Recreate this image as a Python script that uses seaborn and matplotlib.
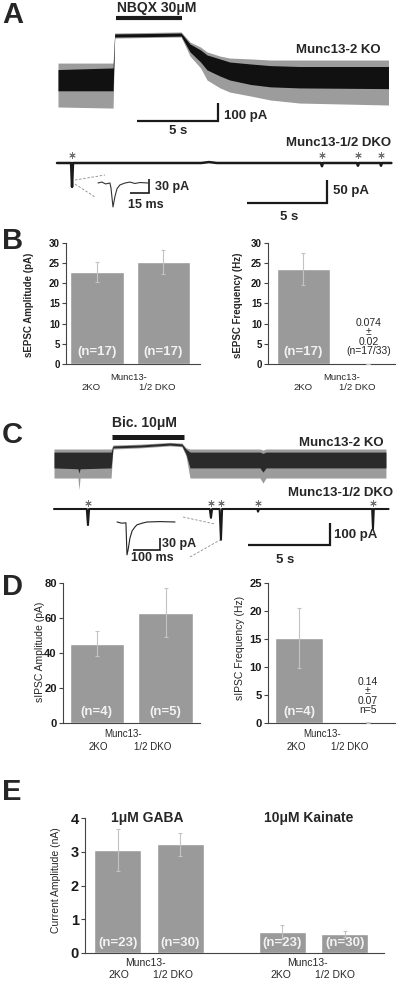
import numpy as np
import pandas as pd
import matplotlib
matplotlib.use("Agg")
import matplotlib.pyplot as plt
import seaborn as sns

# ---------------- values ----------------
genotypes = ["2KO", "1/2 DKO"]

# A  Munc13-2 KO trace, drawn as noise envelopes (time s, current pA from baseline)
ko_a_t = [0, 3.4, 3.5, 5.5, 7.6, 8.15, 8.8, 9.2, 10.0, 10.6, 11.9, 13.1, 14.9, 20.4]
ko_a_hi = [58, 67, 256, 258, 261, 200, 167, 139, 117, 100, 89, 80, 75, 75]
ko_a_lo = [-60, -60, 239, 241, 244, 156, 100, 56, 22, 0, -25, -38, -44, -48]
ko_a_spk_hi = [94, 94, 261, 264, 267, 211, 183, 156, 133, 122, 117, 111, 111, 111]
ko_a_spk_lo = [-150, -156, 233, 236, 239, 133, 67, 0, -44, -67, -89, -111, -128, -139]
nbqx_on = [3.58, 7.65]

# A  Munc13-1/2 DKO trace
dko_a_t = [0, 0.88, 0.94, 1.0, 9.0, 9.5, 10.0, 16.5, 16.56, 16.62, 18.75, 18.81, 18.87, 20.2, 20.25, 20.3, 20.9]
dko_a_pA = [0, 0, -52, 0, 0, 2, 0, 0, -7, 0, 0, -6, 0, 0, -6, 0, 0]
dko_a_events = [0.94, 16.56, 18.81, 20.25]
# A  expanded event (ms, pA)
ins_a_ms = [0, 3, 6, 9.4, 10.2, 11.8, 13.4, 15, 17.3, 21.3, 25.2, 29, 33, 39.4]
ins_a_pA = [0, 2, -2, 0, -10, -51, -28, -12, -4, 0, 2, -1, 1, 0]

# B  sEPSCs
epsc_amp = [22.8, 25.3]
epsc_amp_err = [2.5, 3.0]
epsc_freq = [23.5, 0.074]
epsc_freq_err = [4.0, 0.02]

# C  Munc13-2 KO trace envelopes
ko_c_t = [0, 1.46, 1.52, 1.59, 3.48, 3.6, 5.24, 7.07, 7.8, 8.05, 8.29, 12.56, 12.74, 12.93, 20.24]
ko_c_hi = [36, 36, 36, 36, 36, 64, 68, 77, 73, 50, 36, 36, 30, 36, 36]
ko_c_lo = [-36, -40, -60, -40, -36, 55, 59, 68, 64, 27, -36, -36, -55, -36, -36]
ko_c_spk_hi = [50, 50, 50, 50, 50, 68, 72, 80, 77, 55, 50, 50, 45, 50, 50]
ko_c_spk_lo = [-82, -82, -136, -82, -82, 50, 55, 64, 60, 18, -82, -82, -105, -82, -82]
bic_on = [3.54, 7.93]

# C  Munc13-1/2 DKO trace
dko_c_t = [0, 2.0, 2.07, 2.14, 9.5, 9.57, 9.64, 10.1, 10.18, 10.25, 12.4, 12.44, 12.5, 19.4, 19.45, 19.5, 20.4]
dko_c_pA = [0, 0, -73, 0, 0, -40, 0, 0, -140, 0, 0, -12, 0, 0, -90, 0, 0]
dko_c_events = [2.07, 9.57, 10.18, 12.44, 19.45]
ins_c_ms = [0, 18, 33, 37, 41, 48, 56, 67, 74, 93, 111, 160, 215]
ins_c_pA = [0, -3, -2, -82, -70, -40, -22, -12, -7, -3, 0, 1, 0]

# D  sIPSCs
ipsc_amp = [45.3, 63.0]
ipsc_amp_err = [7.0, 14.0]
ipsc_freq = [15.2, 0.14]
ipsc_freq_err = [5.3, 0.07]

# E  agonist-evoked currents (nA)
agonists = ["1μM GABA", "10μM Kainate"]
e_agonist = ["1μM GABA", "1μM GABA", "10μM Kainate", "10μM Kainate"]
e_genotype = ["2KO", "1/2 DKO", "2KO", "1/2 DKO"]
e_amp = [3.05, 3.22, 0.62, 0.56]
e_err = [0.62, 0.35, 0.21, 0.09]
e_n = ["(n=23)", "(n=30)", "(n=23)", "(n=30)"]

# ---------------- figure ----------------
W, H = 410, 990
sns.set_theme(style="ticks")
plt.rcParams["font.family"] = ["Liberation Sans", "DejaVu Sans"]
BAR_C = "#9a9a9a"
ERR_C = "#c4c4c4"

fig = plt.figure(figsize=(W / 100, H / 100), dpi=100)


def px_axes(x0, y0, x1, y1):
    return fig.add_axes([x0 / W, 1 - y1 / H, (x1 - x0) / W, (y1 - y0) / H])


def trace_axes(box, origin, px_x, px_y):
    x0, y0, x1, y1 = box
    ox, oy = origin
    ax = px_axes(*box)
    ax.set_xlim((x0 - ox) / px_x, (x1 - ox) / px_x)
    ax.set_ylim((oy - y1) / px_y, (oy - y0) / px_y)
    ax.axis("off")
    return ax


def px_to_data(ax, x, y):
    return ax.transData.inverted().transform((x, H - y))


def scale_bar(ax, corner, dx, dy, lw=1.6):
    cx, cy = px_to_data(ax, *corner)
    ax.plot([cx - dx, cx, cx], [cy, cy, cy + dy], color="k", lw=lw,
            solid_joinstyle="miter", solid_capstyle="butt")


def envelope(ax, t, hi, lo, shi, slo, core="#111111"):
    ax.fill_between(t, slo, shi, color="#9c9c9c", lw=0)
    ax.fill_between(t, lo, hi, color=core, lw=0)


# ---- A ----
ax = trace_axes((50, 0, 400, 135), (58, 80), 16.2, 0.18)
envelope(ax, ko_a_t, ko_a_hi, ko_a_lo, ko_a_spk_hi, ko_a_spk_lo)
ax.plot(nbqx_on, [px_to_data(ax, 0, 18)[1]] * 2, color="k", lw=3, solid_capstyle="butt")
scale_bar(ax, (218, 121), 5, 100)

ax = trace_axes((50, 140, 400, 225), (57, 163), 16.0, 0.46)
sns.lineplot(x=dko_a_t, y=dko_a_pA, ax=ax, color="k", lw=1.8, estimator=None, sort=False)
ax.scatter(dko_a_events, [17] * len(dko_a_events), marker=(6, 2, 0), s=16,
           color="#707070", linewidths=0.7)
scale_bar(ax, (327, 203), 5, 50)

ax = trace_axes((92, 168, 160, 212), (98, 183), 1.27, 0.47)
sns.lineplot(x=ins_a_ms, y=ins_a_pA, ax=ax, color="#333333", lw=0.8, estimator=None, sort=False)
scale_bar(ax, (149, 193), 15, 30, lw=1.2)

# ---- C ----
ax = trace_axes((45, 415, 400, 500), (54, 460), 16.4, 0.22)
envelope(ax, ko_c_t, ko_c_hi, ko_c_lo, ko_c_spk_hi, ko_c_spk_lo, core="#2a2a2a")
ax.plot(bic_on, [px_to_data(ax, 0, 437)[1]] * 2, color="k", lw=3.6, solid_capstyle="butt")

ax = trace_axes((45, 495, 400, 565), (54, 509), 16.4, 0.22)
sns.lineplot(x=dko_c_t, y=dko_c_pA, ax=ax, color="k", lw=1.5, estimator=None, sort=False)
ax.scatter(dko_c_events, [27] * len(dko_c_events), marker=(6, 2, 0), s=16,
           color="#707070", linewidths=0.7)
scale_bar(ax, (330, 545), 5, 100)

ax = trace_axes((110, 512, 180, 565), (117, 522), 0.27, 0.4)
sns.lineplot(x=ins_c_ms, y=ins_c_pA, ax=ax, color="#222222", lw=0.8, estimator=None, sort=False)
scale_bar(ax, (160, 550), 100, 30, lw=1.2)


# ---- bar panels ----
def style_axis(ax, xlim, ymax, step, fs):
    sns.despine(ax=ax)
    ax.set_xlim(*xlim)
    ax.set_ylim(0, ymax)
    ax.set_yticks(np.arange(0, ymax + step / 2, step))
    ax.set_xticks([])
    ax.set_xlabel("")
    ax.set_ylabel("")
    for side in ("left", "bottom"):
        ax.spines[side].set_color("#444444")
        ax.spines[side].set_linewidth(0.8)
    ax.tick_params(axis="y", direction="out", length=3, width=0.8, pad=1.5,
                   labelsize=fs, colors="#444444", labelcolor="k")
    plt.setp(ax.get_yticklabels(), fontweight="bold")


def bar_panel(box, values, errors, labels, xlim, ymax, step, width, fs, n_frac):
    ax = px_axes(*box)
    df = pd.DataFrame({"genotype": genotypes, "value": values})
    sns.barplot(data=df, x="genotype", y="value", order=genotypes, color=BAR_C,
                saturation=1, width=width, errorbar=None, ax=ax)
    ax.errorbar(np.arange(len(values)), values, yerr=errors, fmt="none", ecolor=ERR_C,
                elinewidth=0.8, capsize=1.5, capthick=0.8, zorder=3)
    style_axis(ax, xlim, ymax, step, fs)
    for i, lab in enumerate(labels):
        if lab:
            ax.text(i, n_frac, lab, transform=ax.get_xaxis_transform(), ha="center",
                    va="center", color="#f2f2f2", fontsize=9.5, fontweight="bold")
    return ax


bar_panel((66, 243, 200, 364), epsc_amp, epsc_amp_err, ["(n=17)", "(n=17)"],
          (-0.466, 1.55), 30, 5, 0.81, 7, 0.1)
bar_panel((268, 243, 395, 364), epsc_freq, epsc_freq_err, ["(n=17)", ""],
          (-0.55, 1.42), 30, 5, 0.82, 7, 0.1)
bar_panel((63, 583, 200, 723), ipsc_amp, ipsc_amp_err, ["(n=4)", "(n=5)"],
          (-0.49, 1.5), 80, 20, 0.79, 8, 0.08)
bar_panel((268, 583, 395, 723), ipsc_freq, ipsc_freq_err, ["(n=4)", ""],
          (-0.45, 1.39), 25, 5, 0.7, 8, 0.08)

ax = px_axes(85, 818, 384, 953)
df_e = pd.DataFrame({"agonist": e_agonist, "genotype": e_genotype, "amp": e_amp})
sns.barplot(data=df_e, x="agonist", y="amp", hue="genotype", order=agonists,
            hue_order=genotypes, palette=[BAR_C, BAR_C], saturation=1, width=0.76,
            gap=0.25, errorbar=None, legend=False, ax=ax)
centers = {}
for p, (g, a) in zip(ax.patches, [(g, a) for g in genotypes for a in agonists]):
    centers[(a, g)] = p.get_x() + p.get_width() / 2
xs = [centers[(a, g)] for a, g in zip(e_agonist, e_genotype)]
ax.errorbar(xs, e_amp, yerr=e_err, fmt="none", ecolor=ERR_C, elinewidth=0.8,
            capsize=1.5, capthick=0.8, zorder=3)
for x, lab in zip(xs, e_n):
    ax.text(x, 0.074, lab, transform=ax.get_xaxis_transform(), ha="center", va="center",
            color="#f2f2f2", fontsize=9.5, fontweight="bold")
style_axis(ax, (-0.39, 1.43), 4, 1, 10.5)

# ---- text / annotation layer ----
cv = fig.add_axes([0, 0, 1, 1])
cv.set_xlim(0, W)
cv.set_ylim(H, 0)
cv.axis("off")
cv.set_zorder(10)


def txt(x, y, s, size, weight="bold", ha="center", **kw):
    cv.text(x, y, s, fontsize=size, fontweight=weight, ha=ha, va="center", **kw)


for letter, (x, y) in zip("ABCDE", [(2, 15), (2, 241), (2, 435), (2, 587), (2, 792)]):
    txt(x, y, letter, 21, ha="left")

txt(157, 8, "NBQX 30μM", 10)
txt(381, 50, "Munc13-2 KO", 9.5, ha="right")
txt(224, 116, "100 pA", 9.5, ha="left")
txt(178, 131, "5 s", 9.5)
txt(391, 143, "Munc13-1/2 DKO", 9.5, ha="right")
txt(155, 187, "30 pA", 9, ha="left")
txt(128, 205, "15 ms", 9, ha="left")
txt(333, 191, "50 pA", 9.5, ha="left")
txt(289, 217, "5 s", 9.5)
cv.plot([75, 105], [180, 175], color="#8a8a8a", lw=0.6, ls=(0, (3, 2)))
cv.plot([75, 95], [184, 197], color="#8a8a8a", lw=0.6, ls=(0, (3, 2)))

txt(144, 423, "Bic. 10μM", 10)
txt(384, 443, "Munc13-2 KO", 9.5, ha="right")
txt(393, 493, "Munc13-1/2 DKO", 9.5, ha="right")
txt(162, 544, "30 pA", 9, ha="left")
txt(131, 558, "100 ms", 9, ha="left")
txt(334, 535, "100 pA", 9.5, ha="left")
txt(285, 560, "5 s", 9.5)
cv.plot([183, 215], [517, 524], color="#8a8a8a", lw=0.6, ls=(0, (3, 2)))
cv.plot([190, 220], [557, 540], color="#8a8a8a", lw=0.6, ls=(0, (3, 2)))

# y labels
txt(29, 305, "sEPSC Amplitude (pA)", 7, rotation=90)
txt(238, 305, "sEPSC Frequency (Hz)", 7, rotation=90)
txt(40, 652, "sIPSC Amplitude (pA)", 7.5, weight="normal", rotation=90)
txt(240, 648, "sIPSC Frequency (Hz)", 7.5, weight="normal", rotation=90)
txt(56, 880, "Current Amplitude (nA)", 7.5, weight="normal", rotation=90)

# genotype labels under bars
for (mx, my), (ax1, ax2), ly, fs in [
        ((129, 377), (91, 157), 388, 6.8), ((342, 377), (303, 357), 388, 6.8),
        ((123, 734), (98, 153), 747, 7), ((322, 734), (296, 350), 747, 7),
        ((145, 963), (119, 173), 975, 7.5), ((307, 963), (281, 335), 975, 7.5)]:
    txt(mx, my, "Munc13-", fs, weight="normal")
    txt(ax1, ly, genotypes[0], fs, weight="normal")
    txt(ax2, ly, genotypes[1], fs, weight="normal")

cv.text(369, 337, "0.074\n±\n0.02\n(n=17/33)", fontsize=7.5, ha="center", va="center",
        linespacing=0.95)
cv.text(368, 696, "0.14\n±\n0.07\nn=5", fontsize=7.5, ha="center", va="center",
        linespacing=0.95)

txt(147, 818, agonists[0], 10)
txt(309, 818, agonists[1], 10)

fig.savefig("out.png", dpi=100)
